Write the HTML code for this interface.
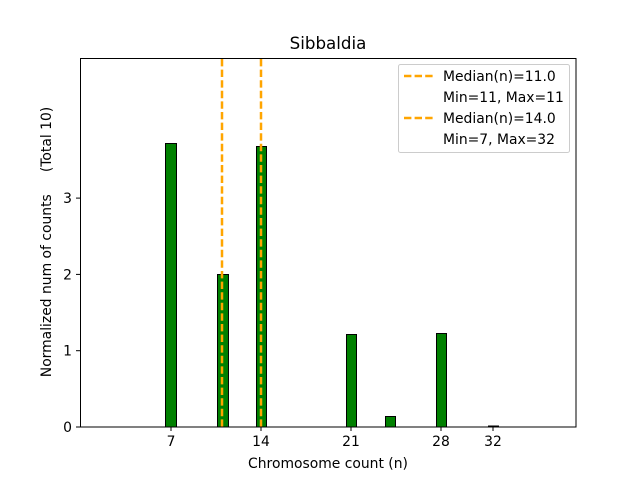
<!DOCTYPE html>
<html><head><meta charset="utf-8"><style>
html,body{margin:0;padding:0;background:#fff;}
svg{display:block;font-family:"DejaVu Sans","Liberation Sans",sans-serif;}
</style></head><body>
<svg width="640" height="480" viewBox="0 0 640 480" xmlns="http://www.w3.org/2000/svg">
<rect width="640" height="480" fill="#fff"/>
<g fill="#008000" stroke="#000" stroke-width="1">
<rect x="165.5" y="143.5" width="11" height="283.5"/>
<rect x="217.5" y="274.5" width="11" height="152.5"/>
<rect x="256.5" y="146.5" width="10" height="280.5"/>
<rect x="346.5" y="334.5" width="10" height="92.5"/>
<rect x="385.5" y="416.5" width="10" height="10.5"/>
<rect x="436.5" y="333.5" width="10" height="93.5"/>
<rect x="488.5" y="426" width="10" height="1"/>
</g>
<g stroke="#FFA500" stroke-width="2.5" stroke-dasharray="7.4,3.2">
<line x1="222" y1="59" x2="222" y2="427"/>
<line x1="261" y1="59" x2="261" y2="427"/>
</g>
<rect x="80.5" y="58.5" width="495.5" height="368.5" fill="none" stroke="#000" stroke-width="1"/>
<g stroke="#000" stroke-width="1">
<line x1="171" y1="427" x2="171" y2="431"/>
<line x1="261" y1="427" x2="261" y2="431"/>
<line x1="351" y1="427" x2="351" y2="431"/>
<line x1="441" y1="427" x2="441" y2="431"/>
<line x1="493" y1="427" x2="493" y2="431"/>
<line x1="80" y1="427" x2="76" y2="427"/>
<line x1="80" y1="350.7" x2="76" y2="350.7"/>
<line x1="80" y1="274.4" x2="76" y2="274.4"/>
<line x1="80" y1="198.1" x2="76" y2="198.1"/>
</g>
<g font-size="13.9" fill="#000" text-anchor="middle">
<text x="171" y="446">7</text>
<text x="261" y="446">14</text>
<text x="351" y="446">21</text>
<text x="441" y="446">28</text>
<text x="493" y="446">32</text>
</g>
<g font-size="13.9" fill="#000" text-anchor="end">
<text x="72" y="432">0</text>
<text x="72" y="355.7">1</text>
<text x="72" y="279.4">2</text>
<text x="72" y="203.1">3</text>
</g>
<text x="328" y="468" font-size="13.9" text-anchor="middle">Chromosome count (n)</text>
<text transform="translate(51,242) rotate(-90)" font-size="13.9" text-anchor="middle" xml:space="preserve">Normalized num of counts     (Total 10)</text>
<text x="328" y="49" font-size="16.7" text-anchor="middle">Sibbaldia</text>
<rect x="398.5" y="64.5" width="171" height="88" rx="2" fill="#fff" fill-opacity="0.8" stroke="#ccc"/>
<g stroke="#FFA500" stroke-width="2.5" stroke-dasharray="7.4,3.2">
<line x1="404" y1="76" x2="434" y2="76"/>
<line x1="404" y1="118" x2="434" y2="118"/>
</g>
<g font-size="13.9" fill="#000">
<text x="443" y="81">Median(n)=11.0</text>
<text x="443" y="102">Min=11, Max=11</text>
<text x="443" y="123">Median(n)=14.0</text>
<text x="443" y="144">Min=7, Max=32</text>
</g>
</svg>
</body></html>
